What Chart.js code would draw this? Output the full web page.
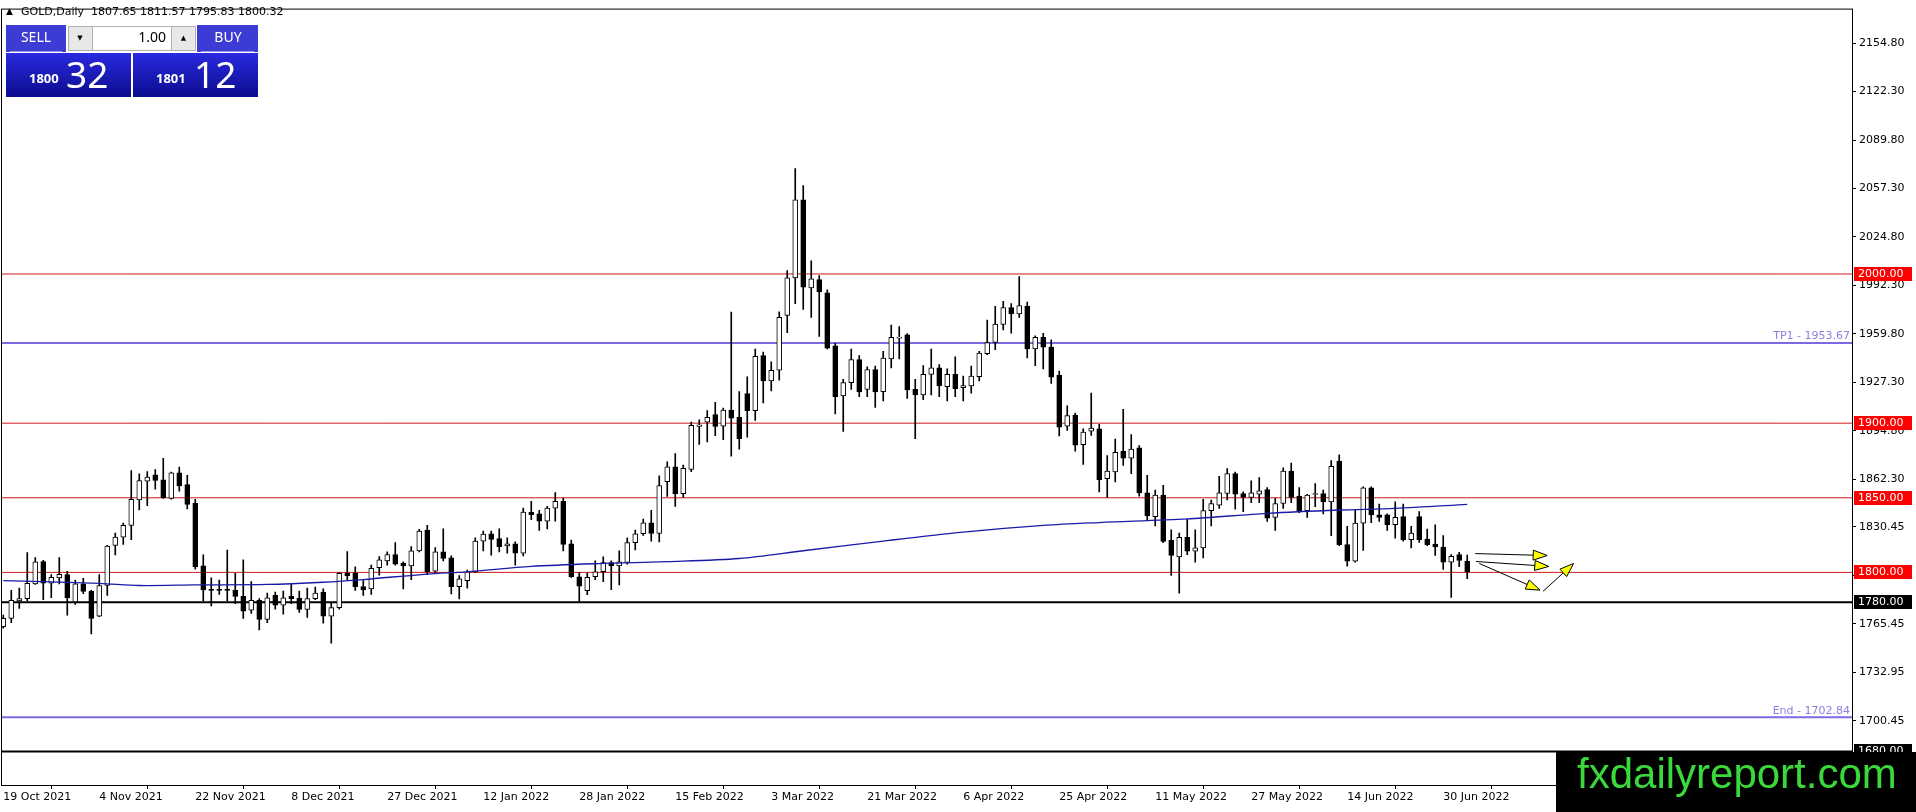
<!DOCTYPE html>
<html>
<head>
<meta charset="utf-8">
<title>GOLD, Daily</title>
<script src="https://cdn.jsdelivr.net/npm/chart.js@4.4.0/dist/chart.umd.min.js"></script>
<style>
    html, body { margin: 0; padding: 0; background: #fff; }
    #wrap { position: relative; width: 1916px; height: 812px; }
</style>
</head>
<body>
<div id="wrap"><canvas id="goldChart"></canvas></div>
<script>
// Nhãn ngày trên trục x (mỗi 12 nến một nhãn)
var dateLabels = ['19 Oct 2021', '4 Nov 2021', '22 Nov 2021', '8 Dec 2021', '27 Dec 2021', '12 Jan 2022',
    '28 Jan 2022', '15 Feb 2022', '3 Mar 2022', '21 Mar 2022', '6 Apr 2022', '25 Apr 2022',
    '11 May 2022', '27 May 2022', '14 Jun 2022', '30 Jun 2022'];

// Giá mở / cao / thấp / đóng của từng nến ngày
var opens = [
    1763.7, 1769.2, 1780.8, 1782.4, 1792.3, 1807.3, 1792.7, 1796.3, 1798.5, 1780.2,
    1792.3, 1787.4, 1770.7, 1791.2, 1818.1, 1823.6, 1831.5, 1848.5, 1861.2, 1865.4,
    1862.1, 1849.6, 1866.7, 1858.8, 1846.3, 1804.4, 1788.5, 1788.5, 1788.5, 1787.9,
    1783.9, 1774.7, 1781.3, 1768.5, 1784.6, 1778.0, 1783.9, 1782.8, 1775.1, 1782.4,
    1786.8, 1770.7, 1776.4, 1799.3, 1799.3, 1790.5, 1788.9, 1803.1, 1807.7, 1811.9,
    1806.2, 1804.4, 1814.4, 1828.3, 1800.9, 1813.7, 1809.7, 1790.5, 1794.5, 1800.4,
    1821.0, 1825.9, 1822.6, 1817.7, 1819.2, 1812.8, 1840.3, 1839.2, 1834.3, 1843.1,
    1847.6, 1819.2, 1797.1, 1787.8, 1797.1, 1800.4, 1806.6, 1804.4, 1806.6, 1819.9,
    1825.9, 1833.2, 1826.1, 1860.8, 1870.8, 1852.7, 1869.0, 1897.8, 1900.7, 1905.8,
    1898.0, 1908.8, 1904.0, 1919.9, 1908.4, 1945.3, 1928.3, 1935.5, 1972.2, 1997.4,
    2049.7, 1990.7, 1996.2, 1987.4, 1951.9, 1918.3, 1927.2, 1942.6, 1922.7, 1936.0,
    1921.2, 1943.0, 1957.0, 1959.2, 1922.7, 1919.0, 1932.7, 1937.1, 1924.5, 1932.7,
    1923.8, 1924.9, 1931.1, 1946.6, 1954.1, 1966.2, 1977.5, 1973.3, 1978.4, 1949.7,
    1957.6, 1951.0, 1932.0, 1898.0, 1905.5, 1885.6, 1894.7, 1896.2, 1862.8, 1867.3,
    1881.2, 1876.5, 1883.4, 1853.3, 1837.4, 1851.8, 1821.5, 1810.4, 1823.5, 1814.2,
    1816.4, 1841.4, 1845.1, 1852.9, 1866.2, 1852.9, 1850.2, 1852.4, 1855.5, 1836.9,
    1846.2, 1867.9, 1851.1, 1841.4, 1852.2, 1852.9, 1847.3, 1874.6, 1818.6, 1807.5,
    1833.0, 1856.6, 1838.5, 1838.5, 1831.9, 1837.4, 1821.9, 1837.4, 1822.3, 1819.0,
    1817.0, 1806.9, 1811.9, 1807.65
];
var highs = [
    1771.4, 1787.9, 1789.4, 1813.2, 1809.9, 1808.1, 1798.5, 1809.9, 1800.7, 1794.9,
    1796.0, 1787.9, 1798.5, 1818.1, 1826.4, 1833.0, 1868.3, 1866.1, 1867.6, 1868.9,
    1876.4, 1867.2, 1870.5, 1865.0, 1848.9, 1811.7, 1796.3, 1794.9, 1815.0, 1799.3,
    1808.4, 1793.8, 1782.4, 1786.1, 1786.8, 1787.4, 1792.7, 1787.4, 1789.4, 1790.1,
    1789.0, 1779.5, 1799.8, 1813.9, 1803.7, 1794.5, 1804.9, 1810.6, 1813.7, 1819.9,
    1807.1, 1817.3, 1828.8, 1831.6, 1816.6, 1829.2, 1811.1, 1797.8, 1801.5, 1823.2,
    1827.7, 1827.7, 1829.2, 1823.2, 1820.4, 1843.1, 1847.6, 1841.6, 1844.2, 1853.5,
    1849.8, 1821.7, 1800.0, 1799.6, 1807.7, 1810.4, 1807.7, 1814.4, 1823.2, 1828.3,
    1835.8, 1841.6, 1864.8, 1874.1, 1879.6, 1871.9, 1900.7, 1902.2, 1908.4, 1913.9,
    1910.2, 1974.4, 1921.2, 1931.1, 1949.7, 1947.7, 1941.1, 1974.6, 2002.2, 2070.6,
    2059.2, 2008.8, 1998.9, 1989.4, 1953.6, 1929.4, 1949.7, 1945.3, 1937.7, 1938.2,
    1948.1, 1965.8, 1964.7, 1960.0, 1929.4, 1938.6, 1949.7, 1939.3, 1936.4, 1944.4,
    1931.6, 1938.2, 1948.1, 1969.1, 1978.4, 1981.7, 1980.1, 1998.2, 1981.2, 1958.5,
    1960.3, 1955.8, 1934.9, 1911.7, 1906.8, 1896.2, 1920.1, 1899.3, 1878.3, 1889.4,
    1909.3, 1892.3, 1885.0, 1865.0, 1855.1, 1858.4, 1828.5, 1826.3, 1835.6, 1828.5,
    1848.9, 1848.5, 1864.4, 1869.5, 1867.3, 1854.0, 1861.3, 1863.5, 1856.9, 1849.6,
    1870.1, 1873.2, 1856.9, 1852.4, 1859.5, 1855.1, 1875.0, 1878.8, 1830.8, 1841.8,
    1857.3, 1857.3, 1845.8, 1839.2, 1847.3, 1845.8, 1830.8, 1840.7, 1829.0, 1831.9,
    1824.6, 1811.9, 1813.5, 1811.57
];
var lows = [
    1762.6, 1766.3, 1775.8, 1780.8, 1791.9, 1781.7, 1783.0, 1792.3, 1771.4, 1778.6,
    1785.7, 1758.8, 1770.3, 1784.6, 1811.7, 1818.7, 1822.0, 1841.9, 1844.7, 1855.7,
    1849.6, 1849.1, 1854.4, 1842.5, 1802.2, 1780.8, 1777.5, 1785.2, 1780.8, 1779.1,
    1769.2, 1772.5, 1761.5, 1766.3, 1775.3, 1772.0, 1779.1, 1773.1, 1769.8, 1781.7,
    1765.9, 1752.6, 1775.3, 1794.9, 1787.9, 1784.6, 1785.2, 1798.2, 1804.9, 1804.9,
    1788.9, 1795.1, 1813.7, 1798.5, 1800.0, 1807.7, 1785.6, 1782.3, 1789.4, 1800.0,
    1814.4, 1811.5, 1813.7, 1812.8, 1804.9, 1811.1, 1835.4, 1828.1, 1829.2, 1834.3,
    1814.4, 1796.7, 1780.5, 1785.0, 1795.1, 1793.8, 1788.5, 1791.6, 1805.5, 1815.0,
    1824.8, 1821.0, 1820.4, 1850.9, 1844.2, 1850.4, 1867.5, 1885.8, 1887.4, 1891.6,
    1888.9, 1877.9, 1882.6, 1890.7, 1901.8, 1913.5, 1921.6, 1928.9, 1960.7, 1980.1,
    1976.2, 1970.9, 1958.1, 1949.7, 1906.2, 1894.5, 1922.7, 1917.7, 1917.7, 1910.6,
    1915.0, 1937.1, 1943.0, 1916.6, 1889.6, 1915.7, 1919.0, 1917.7, 1915.0, 1917.7,
    1915.0, 1920.1, 1928.3, 1945.9, 1949.2, 1962.5, 1960.3, 1970.9, 1943.7, 1938.6,
    1936.4, 1926.7, 1891.4, 1895.1, 1881.2, 1872.4, 1891.8, 1854.0, 1850.2, 1860.6,
    1871.7, 1866.2, 1851.1, 1834.7, 1831.2, 1820.0, 1798.0, 1786.1, 1811.9, 1806.9,
    1809.7, 1831.2, 1842.9, 1848.5, 1842.3, 1840.7, 1846.7, 1846.7, 1834.1, 1828.1,
    1842.9, 1846.7, 1840.0, 1836.9, 1844.0, 1839.2, 1824.6, 1817.9, 1804.2, 1806.9,
    1814.8, 1833.4, 1834.1, 1828.1, 1823.0, 1821.0, 1816.4, 1820.1, 1817.9, 1811.3,
    1802.0, 1783.2, 1803.8, 1795.83
];
var closes = [
    1769.2, 1781.3, 1782.4, 1792.7, 1807.0, 1792.7, 1796.7, 1798.7, 1783.0, 1792.3,
    1787.2, 1769.2, 1791.2, 1817.6, 1823.6, 1831.5, 1848.9, 1861.5, 1863.9, 1861.7,
    1850.0, 1866.7, 1857.9, 1845.6, 1803.7, 1788.3, 1787.9, 1787.9, 1787.9, 1783.9,
    1774.0, 1781.3, 1768.5, 1783.0, 1778.0, 1783.0, 1782.4, 1775.1, 1782.4, 1786.1,
    1770.7, 1776.4, 1799.3, 1797.8, 1790.5, 1788.3, 1802.7, 1808.4, 1811.9, 1805.5,
    1804.4, 1814.4, 1827.7, 1800.4, 1813.7, 1809.3, 1790.5, 1795.6, 1800.4, 1821.0,
    1825.7, 1822.1, 1817.3, 1819.2, 1812.8, 1840.5, 1838.7, 1834.3, 1843.1, 1847.6,
    1818.8, 1797.1, 1790.7, 1796.7, 1800.4, 1806.6, 1804.4, 1807.1, 1819.9, 1825.9,
    1833.2, 1826.1, 1858.2, 1870.8, 1852.7, 1869.7, 1898.5, 1898.9, 1904.0, 1897.8,
    1908.8, 1903.3, 1889.6, 1908.4, 1944.8, 1928.3, 1935.5, 1970.9, 1997.4, 2049.7,
    1991.2, 1996.7, 1987.9, 1950.3, 1917.7, 1927.2, 1942.6, 1921.0, 1936.0, 1921.0,
    1943.7, 1957.6, 1957.6, 1922.3, 1919.0, 1932.7, 1937.1, 1924.9, 1932.7, 1923.2,
    1925.2, 1931.6, 1947.0, 1954.1, 1966.4, 1977.5, 1973.3, 1978.8, 1949.7, 1957.6,
    1951.0, 1930.9, 1897.4, 1905.1, 1885.2, 1894.0, 1896.7, 1862.2, 1867.9, 1880.5,
    1876.5, 1882.7, 1853.3, 1837.8, 1851.8, 1820.8, 1811.3, 1823.5, 1814.2, 1816.4,
    1841.4, 1846.2, 1853.3, 1866.2, 1852.4, 1850.2, 1853.3, 1854.6, 1836.3, 1846.2,
    1867.9, 1850.2, 1840.7, 1851.8, 1852.7, 1847.3, 1871.0, 1818.6, 1807.5, 1833.0,
    1856.6, 1838.5, 1836.9, 1831.9, 1836.9, 1821.9, 1826.3, 1821.9, 1818.6, 1817.0,
    1806.9, 1810.8, 1808.0, 1800.32
];

// Đường trung bình động (đọc tại một số nến)
var maBars = [0, 12, 17, 24, 33, 40, 45, 53, 58, 66, 75, 83, 92, 100, 110, 120, 130, 137, 148, 158, 167, 174, 183];
var maValues = [1794.5, 1792.7, 1791.2, 1791.6, 1791.9, 1793.4, 1795.2, 1798.9, 1800.4, 1804.0, 1806.0, 1807.2,
    1809.3, 1814.5, 1821.0, 1827.0, 1831.5, 1833.4, 1835.8, 1839.6, 1841.8, 1842.9, 1845.6];

// Các đường ngang
var levelValues = [2000, 1953.67, 1900, 1850, 1800, 1780, 1702.84, 1680];
var levelNames = ['', 'TP1', '', '', '', '', 'End', ''];

// Vạch giá trên trục phải
var priceTicks = [2154.80, 2122.30, 2089.80, 2057.30, 2024.80, 1992.30, 1959.80, 1927.30, 1894.80,
    1862.30, 1830.45, 1797.95, 1765.45, 1732.95, 1700.45];

// Giá nến cuối, bid/ask
var lastQuote = [1807.65, 1811.57, 1795.83, 1800.32];
var bidAsk = [['1800', '32'], ['1801', '12']];
var lotSize = '1.00';

// Mũi tên vàng: [nến, giá] đầu và cuối
var arrowFrom = [[184.0, 1812.6], [184.1, 1807.3], [184.5, 1806.0], [192.5, 1787.4]];
var arrowTo = [[193.0, 1811.3], [193.2, 1804.0], [192.1, 1788.1], [196.3, 1806.0]];

// ---- kiểu dáng ----
var levelColors = ['#d01818', '#7b6be0', '#d01818', '#d01818', '#d01818', '#000000', '#7b6be0', '#000000'];
var levelWidths = [1, 2, 1, 1, 1, 2, 2, 2];
var axisFont = { family: 'DejaVu Sans', size: 11 };

var candleIdx = opens.map(function (v, i) { return i; });
var wickData = candleIdx.map(function (i) { return { x: i, y: [lows[i], highs[i]] }; });
var bodyData = candleIdx.map(function (i) { return { x: i, y: [opens[i], closes[i]] }; });
var bodyColors = candleIdx.map(function (i) { return closes[i] >= opens[i] ? '#ffffff' : '#000000'; });
var maData = maBars.map(function (b, k) { return { x: b, y: maValues[k] }; });

var levelSets = levelValues.map(function (v, i) {
    return {
        type: 'line',
        data: [{ x: -5, y: v }, { x: 240, y: v }],
        borderColor: levelColors[i],
        borderWidth: levelWidths[i],
        pointRadius: 0,
        order: 5
    };
});

function drawArrow(ctx, x1, y1, x2, y2) {
    var ang = Math.atan2(y2 - y1, x2 - x1);
    var len = 14, half = 5;
    var bx = x2 - len * Math.cos(ang), by = y2 - len * Math.sin(ang);
    ctx.strokeStyle = '#000';
    ctx.lineWidth = 1;
    ctx.beginPath();
    ctx.moveTo(x1, y1);
    ctx.lineTo(bx, by);
    ctx.stroke();
    ctx.beginPath();
    ctx.moveTo(x2, y2);
    ctx.lineTo(bx + half * Math.sin(ang), by - half * Math.cos(ang));
    ctx.lineTo(bx - half * Math.sin(ang), by + half * Math.cos(ang));
    ctx.closePath();
    ctx.fillStyle = '#ffff00';
    ctx.fill();
    ctx.stroke();
}

function blueGradient(ctx, y0, y1, c0, c1) {
    var g = ctx.createLinearGradient(0, y0, 0, y1);
    g.addColorStop(0, c0);
    g.addColorStop(1, c1);
    return g;
}

var decorPlugin = {
    id: 'decor',
    beforeDraw: function (chart) {
        var ctx = chart.ctx;
        ctx.save();
        ctx.fillStyle = '#ffffff';
        ctx.fillRect(0, 0, chart.width, chart.height);
        ctx.restore();
    },
    afterDatasetsDraw: function (chart) {
        var ctx = chart.ctx, xs = chart.scales.x, ys = chart.scales.y, area = chart.chartArea;
        ctx.save();
        // mũi tên
        arrowFrom.forEach(function (p, i) {
            drawArrow(ctx, xs.getPixelForValue(p[0]), ys.getPixelForValue(p[1]),
                xs.getPixelForValue(arrowTo[i][0]), ys.getPixelForValue(arrowTo[i][1]));
        });
        // nhãn TP1 / End
        ctx.font = '11px DejaVu Sans';
        ctx.textAlign = 'right';
        ctx.textBaseline = 'bottom';
        levelValues.forEach(function (v, i) {
            if (!levelNames[i]) return;
            ctx.fillStyle = '#8a80e0';
            ctx.fillText(levelNames[i] + ' - ' + v.toFixed(2), area.right - 2, ys.getPixelForValue(v) - 1);
        });
        ctx.restore();
    },
    afterDraw: function (chart) {
        var ctx = chart.ctx, ys = chart.scales.y, area = chart.chartArea;
        ctx.save();
        // khung biểu đồ
        ctx.strokeStyle = '#000';
        ctx.lineWidth = 1;
        ctx.strokeRect(area.left - 0.5, area.top - 0.5, area.right - area.left + 1, area.bottom - area.top + 1);

        // hộp giá trên trục phải
        ctx.font = '11px DejaVu Sans';
        ctx.textAlign = 'left';
        ctx.textBaseline = 'middle';
        levelValues.forEach(function (v, i) {
            if (levelNames[i]) return;
            var py = Math.round(ys.getPixelForValue(v));
            ctx.fillStyle = levelColors[i] === '#000000' ? '#000000' : '#ff0000';
            ctx.fillRect(area.right + 2, py - 7, 58, 14);
            ctx.fillStyle = '#ffffff';
            ctx.fillText(v.toFixed(2), area.right + 6, py + 0.5);
        });

        // tiêu đề
        ctx.fillStyle = '#000';
        ctx.font = '9px DejaVu Sans';
        ctx.fillText('\u25B2', 6, 12);
        ctx.font = '11px DejaVu Sans';
        ctx.fillText('GOLD,Daily  ' + lastQuote.map(function (q) { return q.toFixed(2); }).join(' '), 21, 12);

        // bảng giao dịch
        ctx.fillStyle = '#3c3cd4';
        ctx.fillRect(6, 25, 60, 27);
        ctx.fillRect(197, 25, 61, 27);
        ctx.strokeStyle = '#9a9ae8';
        ctx.beginPath();
        ctx.moveTo(10, 51.5); ctx.lineTo(62, 51.5);
        ctx.moveTo(201, 51.5); ctx.lineTo(254, 51.5);
        ctx.stroke();
        ctx.fillStyle = blueGradient(ctx, 53, 97, '#2a2ae0', '#0c0c8e');
        ctx.fillRect(6, 53, 125, 44);
        ctx.fillRect(133, 53, 125, 44);
        ctx.fillStyle = '#e8e8e8';
        ctx.strokeStyle = '#b0b0b0';
        ctx.fillRect(68, 26, 24, 24);
        ctx.strokeRect(68.5, 26.5, 24, 24);
        ctx.fillRect(171, 26, 25, 24);
        ctx.strokeRect(171.5, 26.5, 24, 24);
        ctx.fillStyle = '#ffffff';
        ctx.fillRect(93, 26, 78, 24);
        ctx.strokeRect(92.5, 26.5, 79, 24);
        ctx.fillStyle = '#000';
        ctx.font = '7px DejaVu Sans';
        ctx.textAlign = 'center';
        ctx.fillText('\u25BC', 80, 38);
        ctx.fillText('\u25B2', 183.5, 38);
        ctx.font = '14px "Noto Sans"';
        ctx.textAlign = 'right';
        ctx.fillText(lotSize, 166, 38);
        ctx.fillStyle = '#ffffff';
        ctx.textAlign = 'center';
        ctx.font = '14px "Noto Sans"';
        ctx.fillText('SELL', 36, 38);
        ctx.fillText('BUY', 228, 38);
        ctx.textAlign = 'left';
        ctx.textBaseline = 'alphabetic';
        ctx.font = 'bold 13px "Noto Sans"';
        ctx.fillText(bidAsk[0][0], 29, 83);
        ctx.fillText(bidAsk[1][0], 156, 83);
        ctx.font = '37px "Noto Sans"';
        ctx.fillText(bidAsk[0][1], 66, 88);
        ctx.fillText(bidAsk[1][1], 194, 88);

        // logo
        ctx.fillStyle = '#000';
        ctx.fillRect(1556, 752, 360, 60);
        ctx.fillStyle = '#3ad83a';
        ctx.font = '42px "Liberation Sans"';
        ctx.fillText('fxdailyreport.com', 1577, 788);
        ctx.restore();
    }
};

var ctx = document.getElementById('goldChart').getContext('2d');

var chart = new Chart(ctx, {
    data: {
        datasets: levelSets.concat([{
            type: 'bar',
            data: wickData,
            backgroundColor: '#000000',
            barThickness: 1,
            grouped: false,
            order: 3
        }, {
            type: 'bar',
            data: bodyData,
            backgroundColor: bodyColors,
            borderColor: '#000000',
            borderWidth: 1,
            borderSkipped: false,
            barThickness: 5,
            minBarLength: 1,
            grouped: false,
            order: 2
        }, {
            type: 'line',
            data: maData,
            borderColor: '#1a1aa8',
            borderWidth: 1.3,
            pointRadius: 0,
            tension: 0.3,
            order: 1
        }])
    },
    options: {
        responsive: true,
        maintainAspectRatio: false,
        animation: false,
        layout: { padding: { left: 2, top: 1, right: 0, bottom: 0 } },
        plugins: { legend: { display: false }, tooltip: { enabled: false } },
        scales: {
            x: {
                type: 'linear',
                min: -0.16,
                max: 231.1,
                offset: false,
                grid: { drawOnChartArea: false, tickLength: 4, color: '#000' },
                border: { color: '#000' },
                afterBuildTicks: function (s) {
                    s.ticks = dateLabels.map(function (d, k) { return { value: k * 12 }; });
                },
                ticks: {
                    autoSkip: false,
                    maxRotation: 0,
                    align: 'start',
                    padding: 2,
                    color: '#000',
                    font: axisFont,
                    callback: function (v) { return dateLabels[Math.round(v / 12)]; }
                },
                afterFit: function (s) { s.height = 27; }
            },
            y: {
                type: 'linear',
                position: 'right',
                min: 1657.5,
                max: 2177.2,
                grid: { drawOnChartArea: false, tickLength: 4, color: '#000' },
                border: { color: '#000' },
                afterBuildTicks: function (s) {
                    s.ticks = priceTicks.map(function (v) { return { value: v }; });
                },
                ticks: {
                    padding: 3,
                    color: '#000',
                    font: axisFont,
                    callback: function (v) { return Number(v).toFixed(2); }
                },
                afterFit: function (s) { s.width = 64; }
            }
        }
    },
    plugins: [decorPlugin]
});
</script>
</body>
</html>
